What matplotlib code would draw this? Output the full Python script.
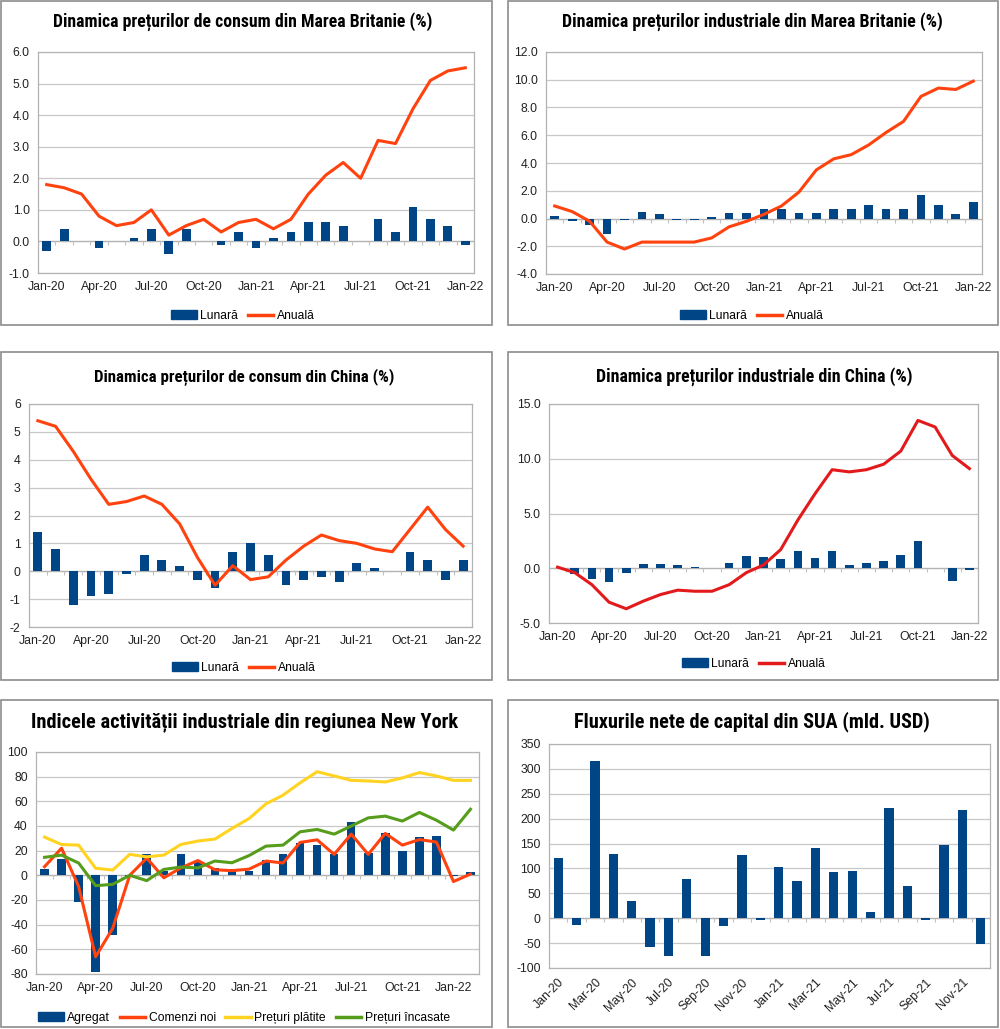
import matplotlib.pyplot as plt
import numpy as np
from matplotlib.patches import Rectangle, Patch
from matplotlib.lines import Line2D
from matplotlib.ticker import FormatStrFormatter

plt.rcParams['font.family'] = ['Liberation Sans', 'DejaVu Sans']

# --- date labels
months = ['Jan', 'Feb', 'Mar', 'Apr', 'May', 'Jun', 'Jul', 'Aug', 'Sep', 'Oct', 'Nov', 'Dec']
dates_25 = [f'{m}-{y}' for y in ['20', '21'] for m in months] + ['Jan-22']
dates_26 = dates_25 + ['Feb-22']
dates_24 = dates_25[:24]

# --- UK CPI
uk_cpi_m = [-0.3, 0.4, 0.0, -0.2, 0.0, 0.1, 0.4, -0.4, 0.4, 0.0, -0.1, 0.3,
            -0.2, 0.1, 0.3, 0.6, 0.6, 0.5, 0.0, 0.7, 0.3, 1.1, 0.7, 0.5, -0.1]
uk_cpi_y = [1.8, 1.7, 1.5, 0.8, 0.5, 0.6, 1.0, 0.2, 0.5, 0.7, 0.3, 0.6,
            0.7, 0.4, 0.7, 1.5, 2.1, 2.5, 2.0, 3.2, 3.1, 4.2, 5.1, 5.4, 5.5]

# --- UK PPI
uk_ppi_m = [0.2, -0.2, -0.5, -1.1, -0.1, 0.5, 0.3, -0.1, -0.1, 0.1, 0.4, 0.4,
            0.7, 0.7, 0.4, 0.4, 0.7, 0.7, 1.0, 0.7, 0.7, 1.7, 1.0, 0.3, 1.2]
uk_ppi_y = [0.9, 0.5, -0.2, -1.7, -2.2, -1.7, -1.7, -1.7, -1.7, -1.4, -0.6, -0.2,
            0.3, 0.9, 1.9, 3.5, 4.3, 4.6, 5.3, 6.2, 7.0, 8.8, 9.4, 9.3, 9.9]

# --- China CPI
cn_cpi_m = [1.4, 0.8, -1.2, -0.9, -0.8, -0.1, 0.6, 0.4, 0.2, -0.3, -0.6, 0.7,
            1.0, 0.6, -0.5, -0.3, -0.2, -0.4, 0.3, 0.1, 0.0, 0.7, 0.4, -0.3, 0.4]
cn_cpi_y = [5.4, 5.2, 4.3, 3.3, 2.4, 2.5, 2.7, 2.4, 1.7, 0.5, -0.5, 0.2,
            -0.3, -0.2, 0.4, 0.9, 1.3, 1.1, 1.0, 0.8, 0.7, 1.5, 2.3, 1.5, 0.9]

# --- China PPI
cn_ppi_m = [0.0, -0.5, -1.0, -1.3, -0.4, 0.4, 0.4, 0.3, 0.1, 0.0, 0.5, 1.1,
            1.0, 0.8, 1.6, 0.9, 1.6, 0.3, 0.5, 0.7, 1.2, 2.5, 0.0, -1.2, -0.2]
cn_ppi_y = [0.1, -0.4, -1.5, -3.1, -3.7, -3.0, -2.4, -2.0, -2.1, -2.1, -1.5, -0.4,
            0.3, 1.7, 4.4, 6.8, 9.0, 8.8, 9.0, 9.5, 10.7, 13.5, 12.9, 10.3, 9.1]

# --- NY Empire State
ny_agregat = [4.8, 12.9, -21.5, -78.2, -48.5, -0.2, 17.2, 3.7, 17.0, 10.5, 6.3, 4.9,
              3.5, 12.1, 17.4, 26.3, 24.3, 17.4, 43.0, 18.3, 34.3, 19.8, 30.9, 31.9, -0.7, 3.1]
ny_comenzi = [7, 22, -9, -66, -43, 0, 14, -2, 6, 12, 4.5, 3.8,
              5, 11.6, 10, 26.7, 28.8, 17, 33.4, 17, 34, 24.5, 29, 27, -5, 1]
ny_platite = [31, 25, 24.5, 5.7, 4.3, 17, 15, 16.4, 25, 27.8, 29.4, 38,
              46, 58, 65, 75, 84, 80.6, 77, 76.5, 75.7, 79, 83.3, 80.6, 77, 77]
ny_incasate = [14.6, 16.4, 10, -8.4, -7.3, 0, -4.3, 4.8, 6.7, 6, 11.6, 10.2,
               16, 23.7, 24.5, 35.3, 37.2, 33.4, 40, 46.6, 48, 44, 51, 44.7, 36.7, 53.6]

# --- US capital flows
us_flux = [120, -13, 315, 130, 35, -57, -75, 79, -76, -15, 127, -4,
           102, 75, 142, 92, 94, 13, 221, 65, -3, 147, 217, -52]

BLUE = '#004586'
ORANGE = '#ff420e'
RED = '#e31a1c'
YELLOW = '#ffd320'
GREEN = '#579d1c'
GRID = '#c8c8c8'

W, H = 1000, 1029
fig = plt.figure(figsize=(10, 10.29), dpi=100)
titles = []


def add_ax(l, r, t, b):
    return fig.add_axes([l / W, 1 - b / H, (r - l) / W, (b - t) / H])


def box(l, r, t, b):
    fig.patches.append(Rectangle((l / W, 1 - b / H), (r - l) / W, (b - t) / H,
                                 transform=fig.transFigure, fill=False,
                                 edgecolor='#8c8c8c', linewidth=1.2))


def title(x, y, s, width):
    t = fig.text(x / W, 1 - y / H, s, ha='center', va='center', fontsize=13,
                 fontweight='bold',
                 family=['Roboto Condensed', 'Liberation Sans Narrow', 'Liberation Sans'])
    titles.append((t, width))


def style(ax, ylim, step, fmt, labels, every=3, rot=0):
    n = len(labels)
    ax.set_xlim(-0.5, n - 0.5)
    ax.set_ylim(*ylim)
    ax.set_yticks(np.arange(ylim[0], ylim[1] + step / 2, step))
    ax.yaxis.set_major_formatter(FormatStrFormatter(fmt))
    idx = list(range(0, n, every))
    ax.set_xticks(idx)
    if rot:
        ax.set_xticklabels([labels[i] for i in idx], rotation=rot, ha='right',
                           rotation_mode='anchor')
    else:
        ax.set_xticklabels([labels[i] for i in idx])
    ax.tick_params(axis='both', length=0, labelsize=8.8, colors='#222222', pad=6)
    ax.grid(axis='y', color=GRID, linewidth=0.9)
    ax.set_axisbelow(True)
    for s in ax.spines.values():
        s.set_color('#b3b3b3')
        s.set_linewidth(0.9)
    ax.axhline(0, color='#b3b3b3', linewidth=0.9, zorder=1)
    # small category marks under the zero line
    b = np.arange(n + 1) - 0.5
    ax.plot(b, np.zeros_like(b), ls='none', marker=3, markersize=3,
            markeredgewidth=0.8, color='#c0c0c0', zorder=1)


def legend(handles, x, y):
    fig.legend(handles=handles, loc='center', bbox_to_anchor=(x / W, 1 - y / H),
               ncol=len(handles), frameon=False, fontsize=8.7, handlelength=2.1,
               handleheight=0.8, columnspacing=0.8, handletextpad=0.3)


def bar_line_panel(l, r, t, b, bars, line, lcolor, ylim, step, fmt, ttl, tx, ty, tw, lgy):
    ax = add_ax(l, r, t, b)
    x = np.arange(len(bars))
    ax.bar(x, bars, width=0.5, color=BLUE, zorder=2)
    ax.plot(x, line, color=lcolor, linewidth=2.2, zorder=3)
    style(ax, ylim, step, fmt, dates_25)
    title(tx, ty, ttl, tw)
    legend([Patch(color=BLUE, label='Lunară'),
            Line2D([], [], color=lcolor, linewidth=2.5, label='Anuală')], tx, lgy)
    return ax


# panel boxes
box(1, 492, 1, 325)
box(508, 998, 1, 325)
box(1, 492, 352, 680)
box(508, 998, 352, 680)
box(1, 492, 700, 1027)
box(508, 998, 700, 1027)

bar_line_panel(38, 474, 52, 273, uk_cpi_m, uk_cpi_y, ORANGE, (-1, 6), 1, '%.1f',
               'Dinamica prețurilor de consum din Marea Britanie (%)', 243, 22, 377, 316)
bar_line_panel(546, 982, 52, 274, uk_ppi_m, uk_ppi_y, ORANGE, (-4, 12), 2, '%.1f',
               'Dinamica prețurilor industriale din Marea Britanie (%)', 752, 22, 380, 316)
bar_line_panel(29, 472, 404, 627, cn_cpi_m, cn_cpi_y, ORANGE, (-2, 6), 1, '%d',
               'Dinamica prețurilor de consum din China (%)', 244, 377, 298, 668)
bar_line_panel(549, 978, 404, 623, cn_ppi_m, cn_ppi_y, RED, (-5, 15), 5, '%.1f',
               'Dinamica prețurilor industriale din China (%)', 754, 377, 315, 664)

# NY panel
ax5 = add_ax(36, 479, 752, 974)
x5 = np.arange(len(ny_agregat))
ax5.bar(x5, ny_agregat, width=0.5, color=BLUE, zorder=2)
ax5.plot(x5, ny_comenzi, color=ORANGE, linewidth=2.2, zorder=3)
ax5.plot(x5, ny_platite, color=YELLOW, linewidth=2.2, zorder=3)
ax5.plot(x5, ny_incasate, color=GREEN, linewidth=2.2, zorder=3)
style(ax5, (-80, 100), 20, '%d', dates_26)
title(245, 722, 'Indicele activității industriale din regiunea New York', 425)
legend([Patch(color=BLUE, label='Agregat'),
        Line2D([], [], color=ORANGE, linewidth=2.5, label='Comenzi noi'),
        Line2D([], [], color=YELLOW, linewidth=2.5, label='Prețuri plătite'),
        Line2D([], [], color=GREEN, linewidth=2.5, label='Prețuri încasate')], 244, 1018)

# US capital flows
ax6 = add_ax(549, 990, 744, 968)
x6 = np.arange(len(us_flux))
ax6.bar(x6, us_flux, width=0.5, color=BLUE, zorder=2)
style(ax6, (-100, 350), 50, '%d', dates_24, every=2, rot=45)
title(752, 722, 'Fluxurile nete de capital din SUA (mld. USD)', 354)

# shrink titles to the width they take in the original
renderer = fig.canvas.get_renderer()
for t, width in titles:
    w = t.get_window_extent(renderer).width
    t.set_fontsize(t.get_fontsize() * width / w)

plt.savefig('out.png', dpi=100)
